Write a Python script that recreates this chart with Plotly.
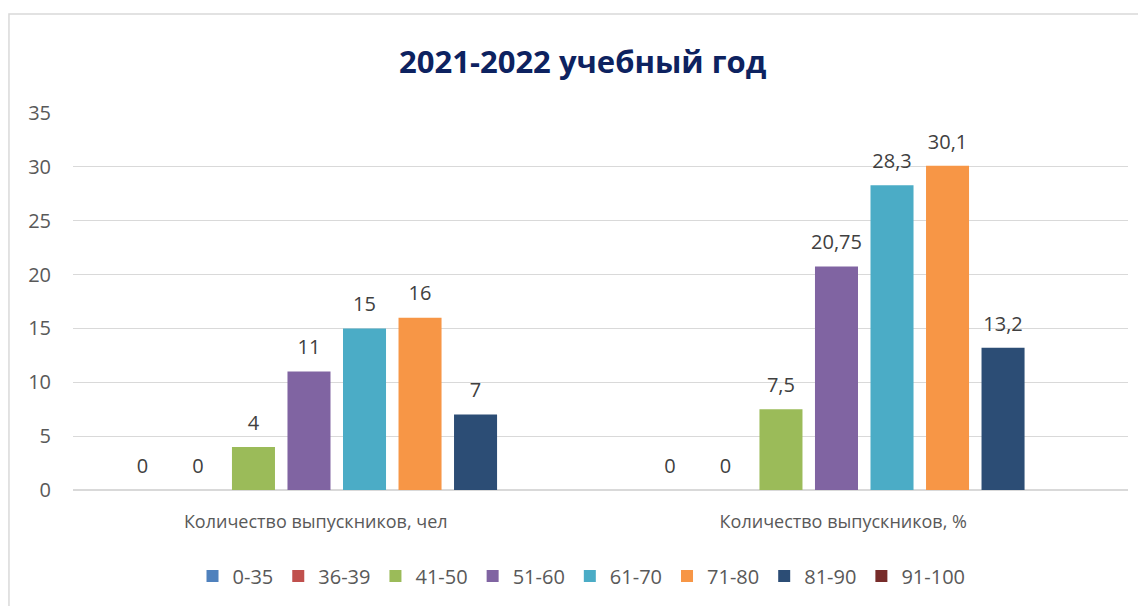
import plotly.graph_objects as go

# data
categories = ['Количество выпускников, чел', 'Количество выпускников, %']
series_names = ['0-35', '36-39', '41-50', '51-60', '61-70', '71-80', '81-90', '91-100']
series_values = [
    [0, 0],
    [0, 0],
    [4, 7.5],
    [11, 20.75],
    [15, 28.3],
    [16, 30.1],
    [7, 13.2],
    [None, None],
]
colors = ['#4F81BD', '#C0504D', '#9BBB59', '#8064A2', '#4BACC6', '#F79646', '#2C4D75', '#772C2A']
y_ticks = [0, 5, 10, 15, 20, 25, 30, 35]


def fmt(v):
    if v is None:
        return ''
    return f'{v:g}'.replace('.', ',')


fig = go.Figure()

for i, (name, vals, color) in enumerate(zip(series_names, series_values, colors)):
    fig.add_trace(go.Bar(
        x=categories,
        y=vals,
        name=name,
        offsetgroup=str(i),
        marker=dict(color=color, line=dict(width=0)),
        hoverinfo='skip',
    ))

# value labels, grouped like the bars so they sit above each one
for i, vals in enumerate(series_values):
    fig.add_trace(go.Scatter(
        x=categories,
        y=vals,
        mode='markers+text',
        offsetgroup=str(i),
        marker=dict(size=18, color='rgba(0,0,0,0)'),
        text=[fmt(v) for v in vals],
        textposition='top center',
        textfont=dict(family='Open Sans', size=20, color='#404040'),
        cliponaxis=False,
        showlegend=False,
        hoverinfo='skip',
    ))

fig.update_layout(
    width=1138,
    height=598,
    barmode='group',
    bargap=0.158,
    bargroupgap=0.225,
    scattermode='group',
    scattergap=0.158,
    plot_bgcolor='white',
    paper_bgcolor='white',
    font=dict(family='Open Sans', size=18, color='#595959'),
    title=dict(
        text='<b>2021-2022 учебный год</b>',
        x=0.505, xanchor='center',
        y=0.91, yanchor='middle',
        font=dict(family='Open Sans', size=31, color='#0D2260'),
    ),
    margin=dict(l=65, r=18, t=105, b=116),
    legend=dict(
        orientation='h',
        x=0.482, xanchor='center',
        yref='container',
        y=0.05, yanchor='middle',
        font=dict(size=20, color='#595959'),
        itemwidth=30,
        traceorder='normal',
    ),
)

fig.update_yaxes(
    range=[0, 35],
    tickvals=y_ticks,
    tickfont=dict(size=20),
    showgrid=True,
    gridcolor='#D9D9D9',
    gridwidth=1,
    zeroline=True,
    zerolinecolor='#D9D9D9',
    showline=False,
    ticks='',
    ticklabelstandoff=21,
)
fig.update_xaxes(
    showgrid=False,
    showline=False,
    ticks='',
    ticklabelshift=-21,
    ticklabelstandoff=19,
)

# chart border
fig.add_shape(
    type='rect', xref='paper', yref='paper',
    x0=-0.0607, x1=1.2, y0=-0.5, y1=1.2626,
    line=dict(color='#D9D9D9', width=1.5),
    layer='below',
)

fig.write_html('out.html')
